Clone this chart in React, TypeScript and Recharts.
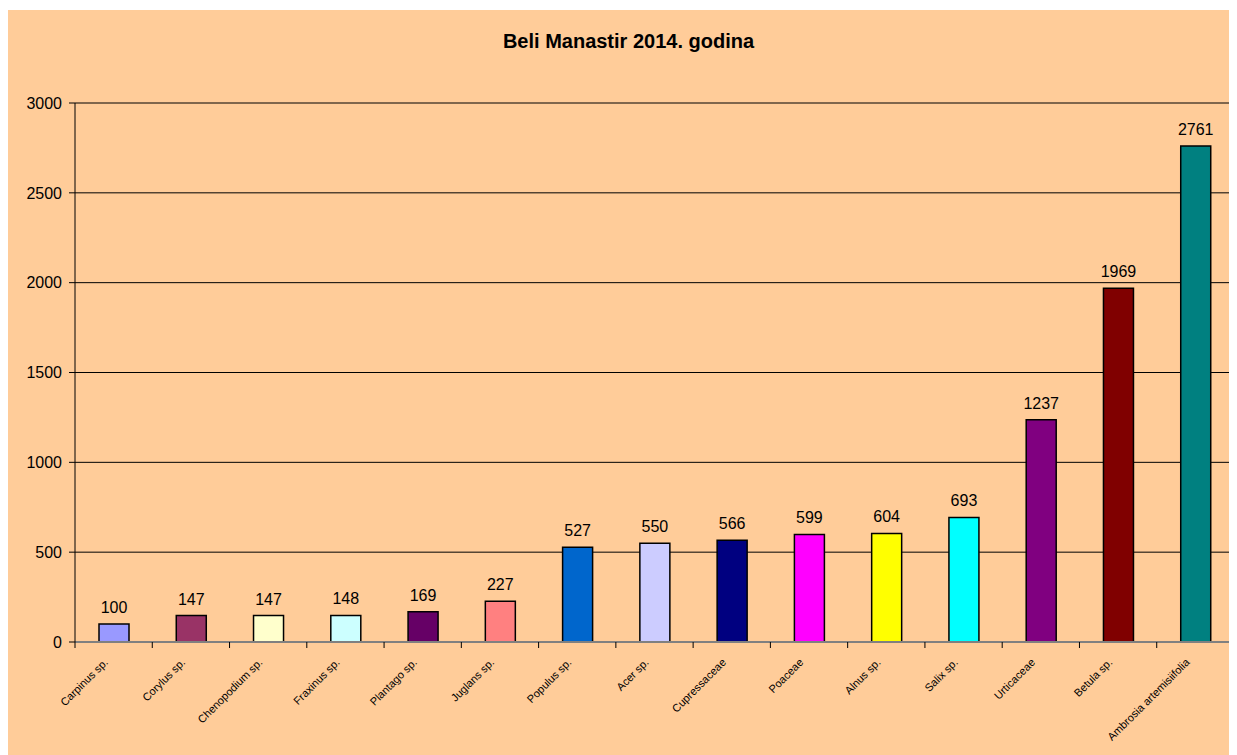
import React from "react";
import {
  BarChart,
  Bar,
  XAxis,
  YAxis,
  CartesianGrid,
  Cell,
  LabelList,
} from "recharts";

const TITLE = "Beli Manastir 2014. godina";

const taxa = [
  "Carpinus sp.",
  "Corylus sp.",
  "Chenopodium sp.",
  "Fraxinus sp.",
  "Plantago sp.",
  "Juglans sp.",
  "Populus sp.",
  "Acer sp.",
  "Cupressaceae",
  "Poaceae",
  "Alnus sp.",
  "Salix sp.",
  "Urticaceae",
  "Betula sp.",
  "Ambrosia artemisiifolia",
];

const pollen = [100, 147, 147, 148, 169, 227, 527, 550, 566, 599, 604, 693, 1237, 1969, 2761];

const barColors = [
  "#9999FF",
  "#993366",
  "#FFFFCC",
  "#CCFFFF",
  "#660066",
  "#FF8080",
  "#0066CC",
  "#CCCCFF",
  "#000080",
  "#FF00FF",
  "#FFFF00",
  "#00FFFF",
  "#800080",
  "#800000",
  "#008080",
];

const yTicks = [0, 500, 1000, 1500, 2000, 2500, 3000];

const data = taxa.map((name, i) => ({ name, value: pollen[i] }));

const WIDTH = 1229;
const HEIGHT = 745;
const FONT = "'Liberation Sans', Arial, sans-serif";

// category ticks sit between the bars, like in Excel
const CategoryTick = (props: any) => {
  const { x, y, payload, index, visibleTicksCount } = props;
  const step = 1159 / taxa.length;
  const last = index === (visibleTicksCount ?? taxa.length) - 1;
  const tx = x - 5;
  const ty = y + 13;
  return (
    <g>
      <line x1={x - step / 2} x2={x - step / 2} y1={y - 8} y2={y - 2} stroke="#000" />
      {last && <line x1={x + step / 2} x2={x + step / 2} y1={y - 8} y2={y - 2} stroke="#000" />}
      <text
        x={tx}
        y={ty}
        textAnchor="end"
        fontSize={11}
        fontFamily={FONT}
        fill="#000"
        transform={`rotate(-45, ${tx}, ${ty})`}
      >
        {payload.value}
      </text>
    </g>
  );
};

export default function App() {
  return (
    <div
      style={{
        width: WIDTH,
        height: HEIGHT,
        marginTop: 2,
        background: "#FFCC99",
        position: "relative",
        fontFamily: FONT,
      }}
    >
      <div
        style={{
          position: "absolute",
          top: 20,
          left: 6,
          width: WIDTH,
          textAlign: "center",
          fontWeight: "bold",
          fontSize: 20,
          color: "#000",
        }}
      >
        {TITLE}
      </div>
      <BarChart
        width={WIDTH}
        height={HEIGHT}
        data={data}
        margin={{ top: 93, right: 3, left: 7, bottom: 0 }}
        barSize={30}
      >
        <CartesianGrid yAxisId="left" vertical={false} stroke="#000" strokeWidth={1} />
        <XAxis
          dataKey="name"
          interval={0}
          height={113}
          axisLine={{ stroke: "#808080", strokeWidth: 2 }}
          tickLine={false}
          tick={<CategoryTick />}
        />
        <YAxis
          yAxisId="left"
          domain={[0, 3000]}
          ticks={yTicks}
          width={60}
          axisLine={{ stroke: "#000" }}
          tickLine={{ stroke: "#000" }}
          tickMargin={7}
          tick={{ fill: "#000", fontSize: 16, fontFamily: FONT }}
        />
        <YAxis
          yAxisId="right"
          orientation="right"
          domain={[0, 3000]}
          width={0}
          tick={false}
          tickLine={false}
          axisLine={{ stroke: "#808080", strokeWidth: 2 }}
        />
        <Bar
          yAxisId="left"
          dataKey="value"
          stroke="#000"
          strokeWidth={1.5}
          isAnimationActive={false}
        >
          {data.map((d, i) => (
            <Cell key={d.name} fill={barColors[i]} />
          ))}
          <LabelList
            dataKey="value"
            position="top"
            offset={11}
            fill="#000"
            fontSize={16}
            fontFamily={FONT}
          />
        </Bar>
      </BarChart>
    </div>
  );
}
